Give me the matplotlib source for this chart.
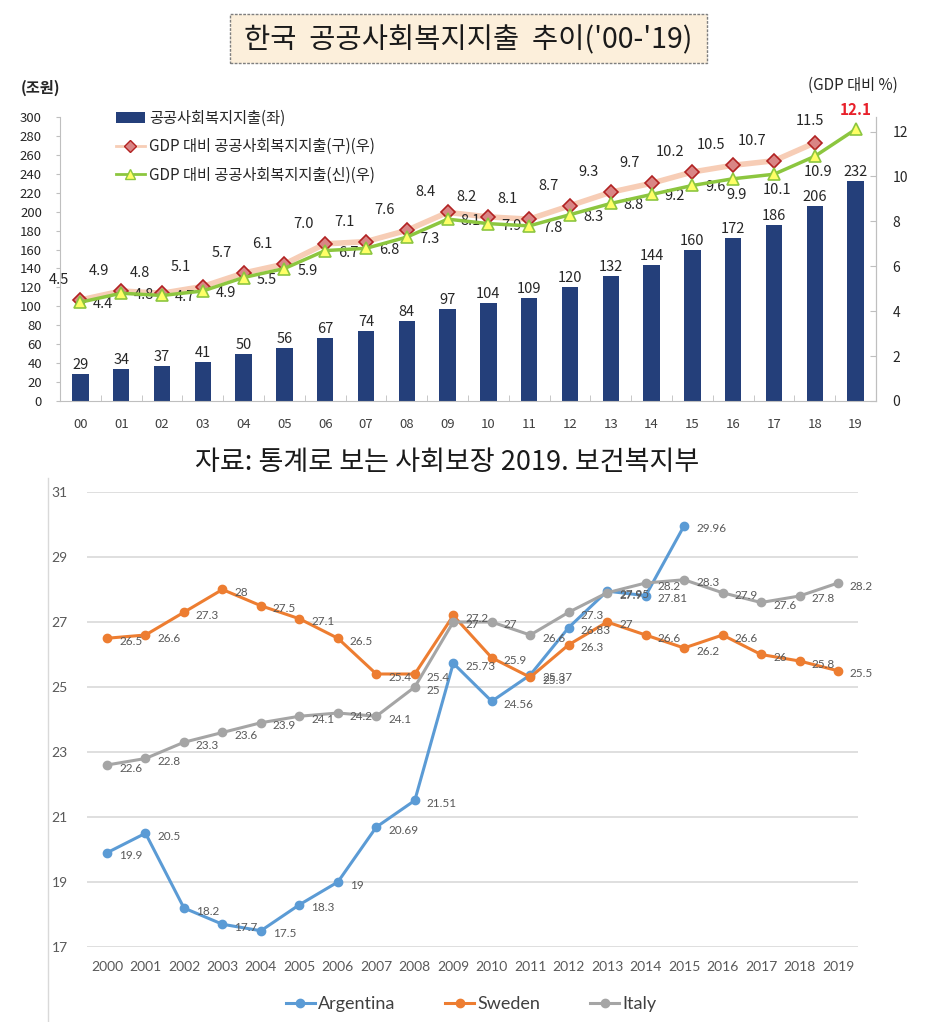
import numpy as np
import matplotlib
matplotlib.use("Agg")
import matplotlib.pyplot as plt
from matplotlib.patches import Rectangle, Patch
from matplotlib.lines import Line2D

plt.rcParams['font.family'] = ['Noto Sans CJK KR', 'DejaVu Sans']

# ---- top chart data (Korea) ----
yr_short = ['00', '01', '02', '03', '04', '05', '06', '07', '08', '09',
            '10', '11', '12', '13', '14', '15', '16', '17', '18', '19']
spend = [29, 34, 37, 41, 50, 56, 67, 74, 84, 97,
         104, 109, 120, 132, 144, 160, 172, 186, 206, 232]
gdp_old = [4.5, 4.9, 4.8, 5.1, 5.7, 6.1, 7.0, 7.1, 7.6, 8.4,
           8.2, 8.1, 8.7, 9.3, 9.7, 10.2, 10.5, 10.7, 11.5]
gdp_new = [4.4, 4.8, 4.7, 4.9, 5.5, 5.9, 6.7, 6.8, 7.3, 8.1,
           7.9, 7.8, 8.3, 8.8, 9.2, 9.6, 9.9, 10.1, 10.9, 12.1]

# ---- bottom chart data ----
years = list(range(2000, 2020))
argentina = [19.9, 20.5, 18.2, 17.7, 17.5, 18.3, 19, 20.69, 21.51, 25.73,
             24.56, 25.37, 26.83, 27.95, 27.81, 29.96]
sweden = [26.5, 26.6, 27.3, 28, 27.5, 27.1, 26.5, 25.4, 25.4, 27.2,
          25.9, 25.3, 26.3, 27, 26.6, 26.2, 26.6, 26, 25.8, 25.5]
italy = [22.6, 22.8, 23.3, 23.6, 23.9, 24.1, 24.2, 24.1, 25, 27,
         27, 26.6, 27.3, 27.9, 28.2, 28.3, 27.9, 27.6, 27.8, 28.2]

W, H = 926, 1022
fig = plt.figure(figsize=(W / 100, H / 100), dpi=100)


def fx(px):
    return px / W


def fy(py):
    return 1 - py / H


# title box
fig.add_artist(Rectangle((fx(230), fy(63)), fx(707) - fx(230), fy(14) - fy(63),
                         transform=fig.transFigure, facecolor='#fcefdb',
                         edgecolor='#7f7f7f', linestyle=(0, (2, 1)), lw=1))
fig.text(fx(468), fy(40), "한국  공공사회복지지출  추이('00-'19)",
         ha='center', va='center', fontsize=20.5, color='#1a1a1a')

# ---- top chart ----
ax = fig.add_axes([fx(60), fy(401), fx(876) - fx(60), fy(117) - fy(401)])
x = np.arange(len(yr_short))
ax.bar(x, spend, width=0.4, color='#243f7a', zorder=2)
for xi, v in zip(x, spend):
    ax.annotate(str(v), (xi, v), xytext=(0, 2), textcoords='offset pixels',
                ha='center', va='bottom', fontsize=10.5, color='#262626')
ax.set_xlim(-0.47, 19.5)
ax.set_ylim(0, 300)
ax.set_yticks(range(0, 301, 20))
ax.set_xticks(x)
ax.set_xticklabels(yr_short)
ax.set_xticks(np.arange(-0.5, 20, 1), minor=True)
ax.tick_params(axis='x', which='major', length=0, pad=12, labelsize=9.5, colors='#404040')
ax.tick_params(axis='x', which='minor', length=4, direction='in', color='#bfbfbf')
ax.tick_params(axis='y', length=3, color='#bfbfbf', labelsize=9.5, labelcolor='#262626', pad=10)
ax.spines['top'].set_visible(False)
for s in ['left', 'bottom', 'right']:
    ax.spines[s].set_color('#bfbfbf')

ax2 = ax.twinx()
ax2.set_ylim(0, 12.65)
ax2.set_yticks(range(0, 13, 2))
ax2.tick_params(axis='y', length=4, direction='in', color='#bfbfbf',
                labelsize=10, labelcolor='#262626', pad=12)
for s in ['top', 'left', 'bottom']:
    ax2.spines[s].set_visible(False)
ax2.spines['right'].set_color('#bfbfbf')

ax2.plot(x[:len(gdp_old)], gdp_old, color='#f7cdb6', lw=4, zorder=3,
         marker='D', ms=7, mfc='#d98585', mec='#b22222', mew=1.2)
ax2.plot(x, gdp_new, color='#8cc63f', lw=2.5, zorder=4,
         marker='^', ms=9, mfc='#ffff66', mec='#8cc63f', mew=1.2)

for xi, v in zip(x, gdp_old):
    off = (-5, 22) if xi == 18 else (-22, 20)
    ax2.annotate(f"{v:.1f}", (xi, v), xytext=off, textcoords='offset pixels',
                 ha='center', va='center', fontsize=10.5, color='#262626')
for xi, v in zip(x, gdp_new):
    if xi == 19:
        ax2.annotate(f"{v:.1f}", (xi, v), xytext=(0, 19), textcoords='offset pixels',
                     ha='center', va='center', fontsize=11, color='#e8202a',
                     fontweight='bold')
    elif xi >= 16:
        ax2.annotate(f"{v:.1f}", (xi, v), xytext=(3, -16), textcoords='offset pixels',
                     ha='center', va='center', fontsize=10.5, color='#262626')
    else:
        ax2.annotate(f"{v:.1f}", (xi, v), xytext=(23, -2), textcoords='offset pixels',
                     ha='center', va='center', fontsize=10.5, color='#262626')

fig.text(fx(41), fy(88), "(조원)", ha='center', va='center', fontsize=11,
         color='#262626', fontweight='bold')
fig.text(fx(853), fy(85), "(GDP 대비 %)", ha='center', va='center', fontsize=11,
         color='#262626')

handles = [Patch(facecolor='#243f7a'),
           Line2D([], [], color='#f7cdb6', lw=2, marker='D', ms=6,
                  mfc='#d98585', mec='#b22222'),
           Line2D([], [], color='#8cc63f', lw=2, marker='^', ms=7,
                  mfc='#ffff66', mec='#8cc63f')]
labels = ['공공사회복지지출(좌)', 'GDP 대비 공공사회복지지출(구)(우)',
          'GDP 대비 공공사회복지지출(신)(우)']
fig.legend(handles, labels, loc='upper left', bbox_to_anchor=(fx(102), fy(96)),
           frameon=False, fontsize=11, labelspacing=0.75, handlelength=1.9,
           handletextpad=0.3, labelcolor='#262626')

# source line
fig.text(fx(447), fy(462), "자료: 통계로 보는 사회보장 2019. 보건복지부",
         ha='center', va='center', fontsize=19.5, color='#1a1a1a')

# ---- bottom chart ----
fig.add_artist(Line2D([fx(48), fx(48)], [fy(478), fy(1022)],
                      transform=fig.transFigure, color='#d9d9d9', lw=1))

bx = fig.add_axes([fx(87), fy(947), fx(858) - fx(87), fy(492) - fy(947)])
bx.set_xlim(1999.48, 2019.52)
bx.set_ylim(17, 31)
bx.set_yticks(range(17, 32, 2))
bx.set_xticks(years)
bx.grid(axis='y', color='#d9d9d9', lw=1.2)
bx.set_axisbelow(True)
for s in bx.spines.values():
    s.set_visible(False)
bx.tick_params(length=0, labelsize=10, labelcolor='#595959')
bx.tick_params(axis='y', pad=14)
bx.tick_params(axis='x', pad=10)
for lab in bx.get_xticklabels() + bx.get_yticklabels():
    lab.set_family(['Lato', 'DejaVu Sans'])

series = [('Argentina', argentina, '#5b9bd5'),
          ('Sweden', sweden, '#ed7d31'),
          ('Italy', italy, '#a5a5a5')]
for name, vals, col in series:
    bx.plot(years[:len(vals)], vals, color=col, lw=2.2, marker='o', ms=6,
            label=name)
for name, vals, col in series:
    for xv, v in zip(years, vals):
        bx.annotate(f"{v:g}", (xv, v), xytext=(12, -3), textcoords='offset pixels',
                    ha='left', va='center', fontsize=8.5, color='#595959',
                    family=['Lato', 'DejaVu Sans'])

fig.legend(*bx.get_legend_handles_labels(), loc='center',
           bbox_to_anchor=(fx(471), fy(1004)), ncol=3, frameon=False,
           columnspacing=2.8, handlelength=1.6, handletextpad=0.15,
           labelcolor='#404040', prop={'family': ['Lato', 'DejaVu Sans'], 'size': 13})

fig.savefig('out.png', dpi=100)
